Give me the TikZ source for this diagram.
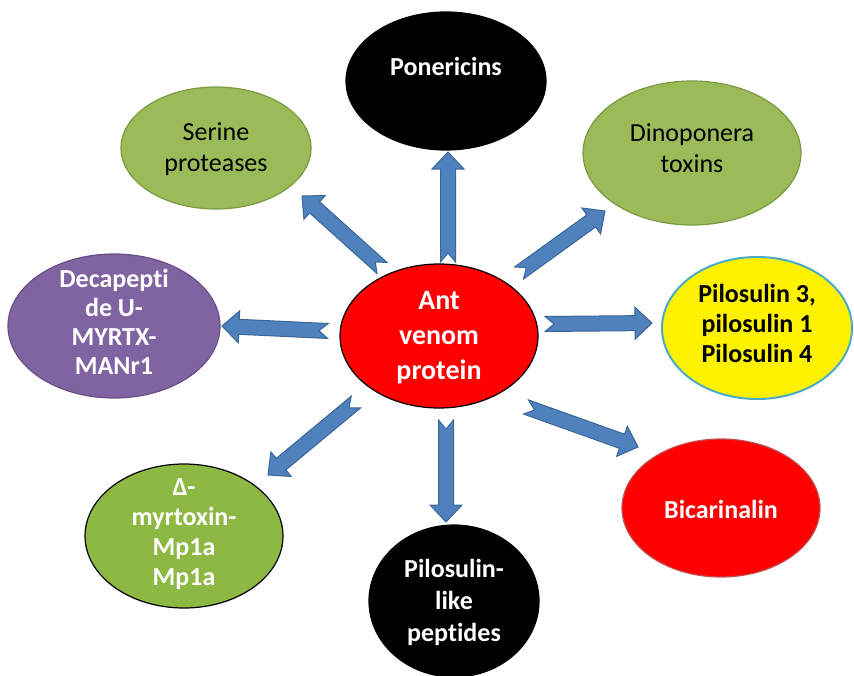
\documentclass[tikz,border=0pt]{standalone}
\usepackage{fontspec}
\setmainfont{Carlito}[Ligatures=NoCommon]
\usetikzlibrary{calc,shapes.geometric}
\definecolor{arrowblue}{HTML}{4F81BD}
\definecolor{arrowedge}{HTML}{3B6699}
\definecolor{olive}{HTML}{9BBB59}
\definecolor{oliveedge}{HTML}{7C9A42}
\definecolor{brightgreen}{HTML}{8DB843}
\definecolor{purp}{HTML}{8064A2}
\definecolor{purpedge}{HTML}{6A5088}
\definecolor{cyanedge}{HTML}{4BACC6}
\definecolor{rededge}{HTML}{C0504D}
\tikzset{
  ell/.style={ellipse, inner sep=0pt, line width=1.2pt},
  txt/.style={align=center, font=\bfseries\fontsize{26}{31}\selectfont},
  rtxt/.style={align=center, font=\fontsize{26}{31}\selectfont},
  bigtxt/.style={align=center, font=\bfseries\fontsize{28}{35}\selectfont, text=white},
  barrow/.style={fill=arrowblue, draw=arrowedge, line width=1pt, line join=miter},
}
\newcommand\blockarrow[2]{%
  \coordinate (#1-hb) at ($(#2)!17pt!(#1)$);
  \filldraw[barrow] ($(#1)!7.5pt!90:(#2)$) -- ($(#1-hb)!7.5pt!-90:(#1)$)
    -- ($(#1-hb)!16pt!-90:(#1)$) -- (#2) -- ($(#1-hb)!16pt!90:(#1)$)
    -- ($(#1-hb)!7.5pt!90:(#1)$) -- ($(#1)!7.5pt!-90:(#2)$)
    -- ($(#1)!9pt!(#2)$) -- cycle;
}
\begin{document}
\begin{tikzpicture}[x=1pt,y=-1pt]
\useasboundingbox (0,0) rectangle (854,675);
% ellipses
\node[ell, fill=red, draw=black, minimum width=198, minimum height=144] (c) at (439,336) {};
\node[ell, fill=black, draw=black, minimum width=200, minimum height=138] (pon) at (446,81) {};
\node[ell, fill=olive, draw=oliveedge, minimum width=190, minimum height=122] (ser) at (216,148) {};
\node[ell, fill=olive, draw=oliveedge, minimum width=218, minimum height=144] (din) at (692,153) {};
\node[ell, fill=purp, draw=purpedge, minimum width=212, minimum height=144] (dec) at (114,326) {};
\node[ell, fill=yellow, draw=cyanedge, line width=2pt, minimum width=190, minimum height=142] (pil) at (757,328) {};
\node[ell, fill=red, draw=rededge, minimum width=198, minimum height=138] (bic) at (721,508) {};
\node[ell, fill=black, draw=black, minimum width=170, minimum height=152] (pll) at (454,601) {};
\node[ell, fill=brightgreen, draw=black, minimum width=198, minimum height=144] (myr) at (184,536) {};
% texts
\node[bigtxt] (c-t) at (439,338) {Ant\\venom\\protein};
\node[txt, text=white] (pon-t) at (446,82) {Ponericins\\\mbox{}};
\node[rtxt, text=black] (ser-t) at (216,149) {Serine\\proteases};
\node[rtxt, text=black] (din-t) at (692,148) {Dinoponera\\toxins};
\node[txt, text=white, font=\bfseries\fontsize{26}{29}\selectfont] (dec-t) at (114,322) {Decapepti\\de U-\\MYRTX-\\MANr1};
\node[txt, text=black, font=\bfseries\fontsize{26}{30}\selectfont] (pil-t) at (757,323) {Pilosulin 3,\\pilosulin 1\\Pilosulin 4};
\node[txt, text=white] (bic-t) at (721,509) {Bicarinalin};
\node[txt, text=white, font=\bfseries\fontsize{26}{32}\selectfont] (pll-t) at (454,602) {Pilosulin-\\like\\peptides};
\node[txt, text=white, font=\bfseries\fontsize{26}{30}\selectfont] (myr-t) at (184,534) {Δ-\\myrtoxin-\\Mp1a\\Mp1a};
% arrow end points
\coordinate (t1) at (448,262); \coordinate (h1) at (448,152);
\coordinate (t2) at (382,268); \coordinate (h2) at (302,196);
\coordinate (t3) at (519,273); \coordinate (h3) at (605,211);
\coordinate (t4) at (545,324); \coordinate (h4) at (652,323);
\coordinate (t5) at (526,407); \coordinate (h5) at (638,447);
\coordinate (t6) at (446,420); \coordinate (h6) at (446,522);
\coordinate (t7) at (356,402); \coordinate (h7) at (268,475);
\coordinate (t8) at (328,331); \coordinate (h8) at (222,326);
\blockarrow{t1}{h1}
\blockarrow{t2}{h2}
\blockarrow{t3}{h3}
\blockarrow{t4}{h4}
\blockarrow{t5}{h5}
\blockarrow{t6}{h6}
\blockarrow{t7}{h7}
\blockarrow{t8}{h8}
\end{tikzpicture}
\end{document}
